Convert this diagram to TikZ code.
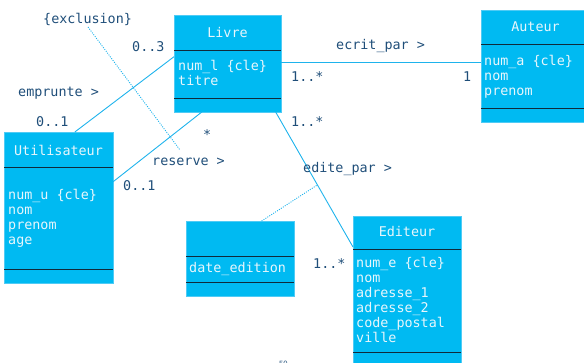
\documentclass[tikz,border=0pt]{standalone}
\usepackage{fontspec}
\setmonofont{DejaVu Sans Mono}
\usetikzlibrary{calc}
\definecolor{boxfill}{HTML}{00BAF2}
\definecolor{boxedge}{HTML}{4FCBF5}
\definecolor{boxtext}{HTML}{E8F6FC}
\definecolor{sepcol}{HTML}{102A3A}
\definecolor{labelcol}{HTML}{1F4E79}
\definecolor{linecol}{HTML}{1EB3EC}
\begin{document}
\begin{tikzpicture}[x=1pt,y=-1pt,
  font=\ttfamily\fontsize{13.4}{15}\selectfont,
  classbox/.style={draw=boxedge, fill=boxfill, line width=0.8pt, inner sep=0pt, outer sep=0pt, anchor=north west},
  sepline/.style={draw=sepcol, line width=0.9pt},
  ttext/.style={text=boxtext, anchor=base, inner sep=0pt},
  ctext/.style={text=boxtext, anchor=base west, inner sep=0pt},
  lbl/.style={text=labelcol, anchor=base west, inner sep=0pt},
  assoc/.style={draw=linecol, line width=0.9pt},
  dotline/.style={draw=linecol, line width=0.9pt, dash pattern=on 1pt off 1.3pt}]
\useasboundingbox (0,0) rectangle (584,363);
\clip (0,0) rectangle (584,363);

% Livre
\node[classbox, minimum width=107, minimum height=97] (livre) at (174,15) {};
\draw[sepline] ($(livre.north west)+(0,35)$) -- ($(livre.north east)+(0,35)$);
\draw[sepline] ($(livre.north west)+(0,83)$) -- ($(livre.north east)+(0,83)$);
\node[ttext] (livre-t) at ($(livre.north)+(0,23)$) {Livre};
\foreach \t [count=\i] in {num\_l \{cle\}, titre}
  \node[ctext] (livre-a\i) at (178,{71+15*(\i-1)}) {\t};

% Auteur
\node[classbox, minimum width=109, minimum height=112] (auteur) at (481,10) {};
\draw[sepline] ($(auteur.north west)+(0,34)$) -- ($(auteur.north east)+(0,34)$);
\draw[sepline] ($(auteur.north west)+(0,98)$) -- ($(auteur.north east)+(0,98)$);
\node[ttext] (auteur-t) at ($(auteur.north)+(0,22)$) {Auteur};
\foreach \t [count=\i] in {num\_a \{cle\}, nom, prenom}
  \node[ctext] (auteur-a\i) at (484,{66+15*(\i-1)}) {\t};

% Utilisateur
\node[classbox, minimum width=109, minimum height=151] (util) at (4,132) {};
\draw[sepline] ($(util.north west)+(0,35)$) -- ($(util.north east)+(0,35)$);
\draw[sepline] ($(util.north west)+(0,137)$) -- ($(util.north east)+(0,137)$);
\node[ttext] (util-t) at ($(util.north)+(0,24)$) {Utilisateur};
\foreach \t [count=\i] in {num\_u \{cle\}, nom, prenom, age}
  \node[ctext] (util-a\i) at (8,{200+15*(\i-1)}) {\t};

% association class box
\node[classbox, minimum width=108, minimum height=75] (edition) at (186,221) {};
\draw[sepline] ($(edition.north west)+(0,35)$) -- ($(edition.north east)+(0,35)$);
\draw[sepline] ($(edition.north west)+(0,61)$) -- ($(edition.north east)+(0,61)$);
\node[ctext] (edition-a1) at (189,273) {date\_edition};

% Editeur
\node[classbox, minimum width=108, minimum height=160] (editeur) at (353,216) {};
\draw[sepline] ($(editeur.north west)+(0,33)$) -- ($(editeur.north east)+(0,33)$);
\draw[sepline] ($(editeur.north west)+(0,136)$) -- ($(editeur.north east)+(0,136)$);
\node[ttext] (editeur-t) at ($(editeur.north)+(0,21)$) {Editeur};
\foreach \t [count=\i] in {num\_e \{cle\}, nom, adresse\_1, adresse\_2, code\_postal, ville}
  \node[ctext] (editeur-a\i) at (356,{268+15*(\i-1)}) {\t};

% associations
\coordinate (lE) at ($(livre.north east)!0.485!(livre.south east)$);
\draw[assoc] (lE) -- (lE -| auteur.west);
\draw[assoc] ($(util.north west)!0.65!(util.north east)$) -- ($(livre.north west)!0.43!(livre.south west)$);
\draw[assoc] ($(util.north east)!0.33!(util.south east)$) -- ($(livre.south west)!0.26!(livre.south east)$);
\draw[assoc] ($(livre.south west)!0.95!(livre.south east)$) -- ($(editeur.north west)+(0,31)$)
  coordinate[pos=0.54] (emid);
\draw[dotline] ($(edition.north west)!0.70!(edition.north east)$) -- (emid);

% labels
\node[lbl] (excl) at (43,24) {\{exclusion\}};
\coordinate (exA) at (88,27);
\coordinate (exB) at (180,150);
\draw[dotline] (exA) -- (exB);
\node[lbl] (m1) at (132,52) {0..3};
\node[lbl] (n1) at (18,97) {emprunte >};
\node[lbl] (m2) at (36,127) {0..1};
\node[lbl] (m3) at (203,140) {*};
\node[lbl] (n2) at (152,166) {reserve >};
\node[lbl] (m4) at (123,191) {0..1};
\node[lbl] (n3) at (336,50) {ecrit\_par >};
\node[lbl] (m5) at (291,82) {1..*};
\node[lbl] (m6) at (463,82) {1};
\node[lbl] (m7) at (291,127) {1..*};
\node[lbl] (n4) at (303,173) {edite\_par >};
\node[lbl] (m8) at (313,269) {1..*};
\node[lbl, font=\sffamily\fontsize{8}{8}\selectfont] (pagenum) at (279,367) {50};
\end{tikzpicture}
\end{document}
